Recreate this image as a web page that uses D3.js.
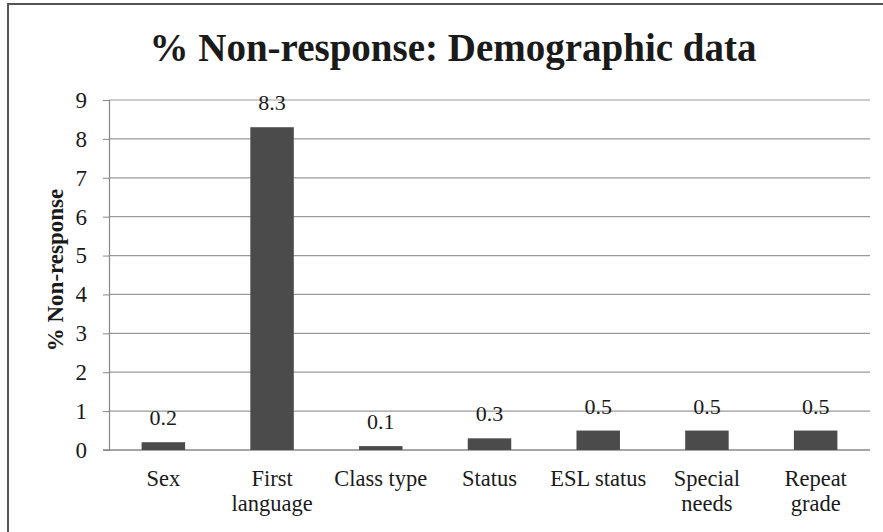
<!DOCTYPE html>
<html>
<head>
<meta charset="utf-8">
<script src="https://cdn.jsdelivr.net/npm/d3@7"></script>
<style>
  html, body { margin: 0; padding: 0; background: #fff; }
  svg { display: block; }
  text { font-family: "Liberation Serif", "Times New Roman", serif; fill: #1a1a1a; }
</style>
</head>
<body>
<svg id="chart" width="883" height="532"></svg>
<script>
// Non-response rates (%) for each demographic item
const categories = ["Sex", "First language", "Class type", "Status", "ESL status", "Special needs", "Repeat grade"];
const categoryLines = [["Sex"], ["First", "language"], ["Class type"], ["Status"], ["ESL status"], ["Special", "needs"], ["Repeat", "grade"]];
const values = [0.2, 8.3, 0.1, 0.3, 0.5, 0.5, 0.5];
const yTicks = [0, 1, 2, 3, 4, 5, 6, 7, 8, 9];

const svg = d3.select("#chart");
const W = 883, H = 532;
const m = { left: 109, right: 13, top: 100, bottom: 82 };

// outer frame
svg.append("rect")
  .attr("x", 8).attr("y", 4)
  .attr("width", W).attr("height", H)
  .attr("fill", "none").attr("stroke", "#555").attr("stroke-width", 2);

const x = d3.scaleBand()
  .domain(categories)
  .range([m.left, W - m.right])
  .paddingInner(0.6).paddingOuter(0.3);

const y = d3.scaleLinear()
  .domain([0, 9])
  .range([H - m.bottom, m.top]);

// horizontal gridlines
svg.append("g")
  .selectAll("line")
  .data(yTicks.filter(d => d > 0))
  .join("line")
  .attr("x1", m.left).attr("x2", W - m.right)
  .attr("y1", d => y(d)).attr("y2", d => y(d))
  .attr("stroke", "#9a9a9a").attr("stroke-width", 1.2);

// y axis
const yAxis = svg.append("g")
  .attr("transform", `translate(${m.left},0)`)
  .call(d3.axisLeft(y).tickValues(yTicks).tickSize(6).tickPadding(16).tickFormat(d3.format("d")));
yAxis.select(".domain").attr("stroke", "#888").attr("stroke-width", 1.2);
yAxis.selectAll(".tick line").attr("stroke", "#888");
yAxis.selectAll(".tick text")
  .attr("font-family", "Liberation Serif, serif")
  .attr("font-size", 23).attr("fill", "#1a1a1a");

// baseline
svg.append("line")
  .attr("x1", m.left - 6).attr("x2", W - m.right)
  .attr("y1", y(0)).attr("y2", y(0))
  .attr("stroke", "#888").attr("stroke-width", 1.5);

// bars
svg.append("g")
  .selectAll("rect")
  .data(values)
  .join("rect")
  .attr("x", (d, i) => x(categories[i]))
  .attr("y", d => y(d))
  .attr("width", x.bandwidth())
  .attr("height", d => y(0) - y(d))
  .attr("fill", "#4b4b4b");

// value labels
svg.append("g")
  .selectAll("text")
  .data(values)
  .join("text")
  .attr("x", (d, i) => x(categories[i]) + x.bandwidth() / 2)
  .attr("y", d => y(d) - 17)
  .attr("text-anchor", "middle")
  .attr("font-size", 22)
  .text(d => d3.format(".1f")(d));

// category labels (wrapped onto two lines where needed)
const cat = svg.append("g")
  .selectAll("text")
  .data(categoryLines)
  .join("text")
  .attr("x", (d, i) => x(categories[i]) + x.bandwidth() / 2)
  .attr("y", 486)
  .attr("text-anchor", "middle")
  .attr("font-size", 22.5);
cat.selectAll("tspan")
  .data(d => d)
  .join("tspan")
  .attr("x", function () { return d3.select(this.parentNode).attr("x"); })
  .attr("dy", (d, i) => i === 0 ? 0 : 25)
  .text(d => d);

// y axis title
svg.append("text")
  .attr("transform", `translate(63, ${(y(0) + y(9)) / 2 - 5}) rotate(-90)`)
  .attr("text-anchor", "middle")
  .attr("font-size", 23)
  .attr("font-weight", "bold")
  .text("% Non-response");

// chart title
svg.append("text")
  .attr("x", 453).attr("y", 61)
  .attr("text-anchor", "middle")
  .attr("font-size", 39)
  .attr("font-weight", "bold")
  .text("% Non-response: Demographic data");
</script>
</body>
</html>
